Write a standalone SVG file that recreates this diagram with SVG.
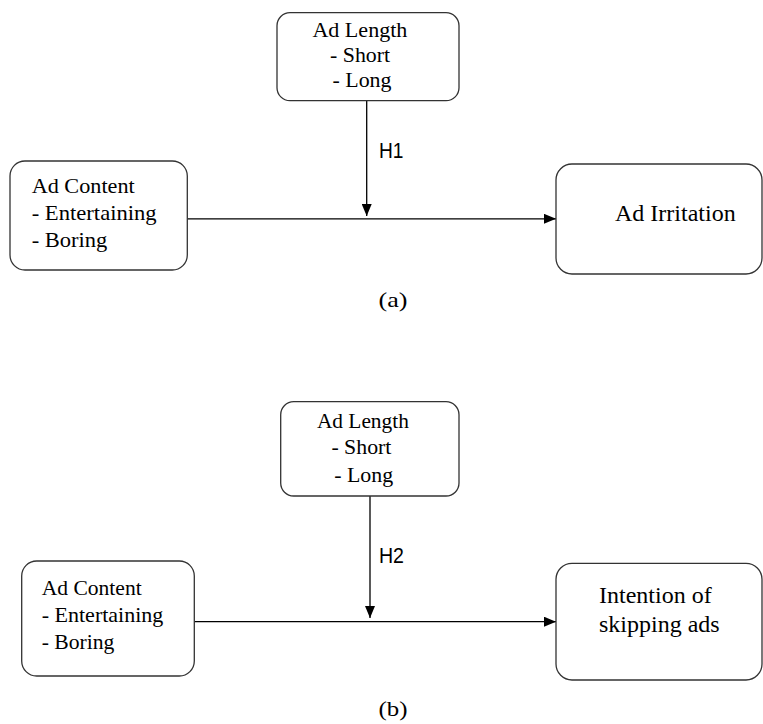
<svg xmlns="http://www.w3.org/2000/svg" width="763" height="724" viewBox="0 0 763 724">
<style>
.box{fill:#fff;stroke:#333;stroke-width:1.3}
.t{font-family:"Liberation Serif","Times New Roman",serif;fill:#000}
.s{font-family:"Liberation Sans",Arial,sans-serif;fill:#000}
.ln{stroke:#000;stroke-width:1.3;fill:none}
</style>
<defs>
<marker id="ah" viewBox="0 0 12 10" refX="12" refY="5" markerWidth="12" markerHeight="10" markerUnits="userSpaceOnUse" orient="auto">
<path d="M0,0 L12,5 L0,10 Z" fill="#000"/>
</marker>
</defs>
<rect width="763" height="724" fill="#fff"/>

<g id="connectors">
<line class="ln" x1="366.7" y1="100.7" x2="366.7" y2="216" marker-end="url(#ah)"/>
<line class="ln" x1="187.3" y1="218.8" x2="556" y2="218.8" marker-end="url(#ah)"/>
<text class="s" x="379" y="157.7" font-size="22" textLength="24.5" lengthAdjust="spacingAndGlyphs">H1</text>
<line class="ln" x1="370" y1="496" x2="370" y2="618" marker-end="url(#ah)"/>
<line class="ln" x1="194.3" y1="621.7" x2="556" y2="621.7" marker-end="url(#ah)"/>
<text class="s" x="379" y="562.7" font-size="22" textLength="25" lengthAdjust="spacingAndGlyphs">H2</text>
</g>

<g id="a-length">
<rect class="box" x="277" y="12.7" width="182" height="88" rx="13"/>
<text class="t" font-size="21" text-anchor="middle">
<tspan x="362.5" y="37.3" textLength="95" lengthAdjust="spacingAndGlyphs">Ad Length</tspan>
<tspan x="362.7" y="62.3" textLength="60" lengthAdjust="spacingAndGlyphs">- Short</tspan>
<tspan x="362" y="87.3" textLength="59" lengthAdjust="spacingAndGlyphs">- Long</tspan>
</text>
</g>

<g id="a-content">
<rect class="box" x="10" y="161" width="177.3" height="109" rx="15"/>
<text class="t" font-size="21">
<tspan x="31.7" y="192.5" textLength="103" lengthAdjust="spacingAndGlyphs">Ad Content</tspan>
<tspan x="31.7" y="220" textLength="125" lengthAdjust="spacingAndGlyphs">- Entertaining</tspan>
<tspan x="31.7" y="247" textLength="75.7" lengthAdjust="spacingAndGlyphs">- Boring</tspan>
</text>
</g>

<g id="a-irritation">
<rect class="box" x="556" y="164" width="206" height="110" rx="16"/>
<text class="t" x="615" y="221" font-size="24">Ad Irritation</text>
</g>

<text class="t" x="393" y="307" font-size="22" text-anchor="middle" textLength="29" lengthAdjust="spacingAndGlyphs">(a)</text>

<g id="b-length">
<rect class="box" x="280.7" y="401.7" width="178.3" height="94.3" rx="13"/>
<text class="t" font-size="21" text-anchor="middle">
<tspan x="365.5" y="427.7" textLength="92" lengthAdjust="spacingAndGlyphs">Ad Length</tspan>
<tspan x="364" y="454.3" textLength="60" lengthAdjust="spacingAndGlyphs">- Short</tspan>
<tspan x="363.7" y="481.7" textLength="59" lengthAdjust="spacingAndGlyphs">- Long</tspan>
</text>
</g>

<g id="b-content">
<rect class="box" x="21.7" y="561" width="172.6" height="115" rx="15"/>
<text class="t" font-size="21">
<tspan x="41.7" y="595" textLength="100" lengthAdjust="spacingAndGlyphs">Ad Content</tspan>
<tspan x="41.7" y="621.7" textLength="121.7" lengthAdjust="spacingAndGlyphs">- Entertaining</tspan>
<tspan x="41.7" y="649" textLength="72.7" lengthAdjust="spacingAndGlyphs">- Boring</tspan>
</text>
</g>

<g id="b-intention">
<rect class="box" x="556" y="563.3" width="206" height="116.7" rx="16"/>
<text class="t" font-size="24">
<tspan x="599" y="603.3">Intention of</tspan>
<tspan x="599" y="631.7">skipping ads</tspan>
</text>
</g>

<text class="t" x="393" y="716" font-size="22" text-anchor="middle" textLength="29" lengthAdjust="spacingAndGlyphs">(b)</text>
</svg>
